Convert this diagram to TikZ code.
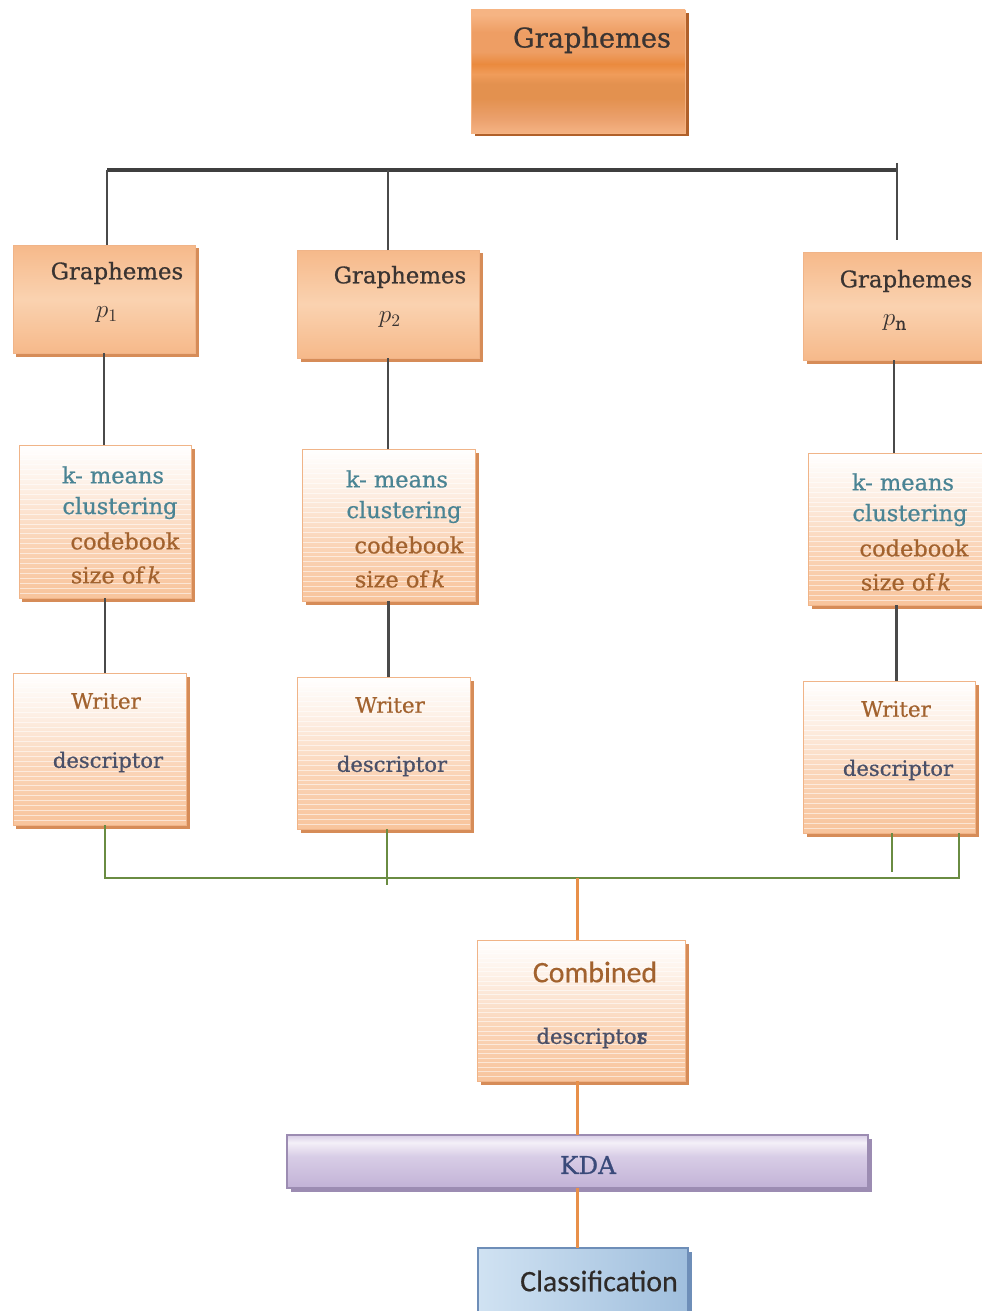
\documentclass[tikz,border=0pt]{standalone}
\usepackage{fontspec}
\setmainfont{DejaVu Serif}[FakeBold=0.7]
\newfontfamily\sansf{Carlito}[FakeBold=0.4]
\usetikzlibrary{calc,shadows}
\definecolor{gtext}{HTML}{3A3432}
\definecolor{teal}{HTML}{4A8494}
\definecolor{brownt}{HTML}{A2622E}
\definecolor{slate}{HTML}{4A5068}
\definecolor{kdatext}{HTML}{3A4A7A}
\definecolor{peach}{HTML}{F8C49C}
\definecolor{peachborder}{HTML}{F0B488}
\definecolor{shadoworange}{HTML}{D68C58}
\definecolor{darkorange}{HTML}{B0602A}
\definecolor{glight}{HTML}{FAD2B0}
\definecolor{gdark}{HTML}{F6B98A}
\definecolor{greenline}{HTML}{6A8C42}
\definecolor{orangeline}{HTML}{E8904A}
\definecolor{greyline}{HTML}{4A4A4A}
\definecolor{kdatop}{HTML}{F4F0F8}
\definecolor{kdamid}{HTML}{D8CDE6}
\definecolor{kdabot}{HTML}{C2B2D6}
\definecolor{kdaborder}{HTML}{9C8CB2}
\definecolor{clstop}{HTML}{D0E2F2}
\definecolor{clsbot}{HTML}{94B6D8}
\definecolor{clsborder}{HTML}{6E8EB8}
\definecolor{tA}{HTML}{F6B483}
\definecolor{tB}{HTML}{EE9E64}
\definecolor{tC}{HTML}{EA8A3E}
\definecolor{tD}{HTML}{F09C5A}
\definecolor{tE}{HTML}{E3914F}
\definecolor{tF}{HTML}{EBA06C}
\definecolor{tG}{HTML}{F3B080}
\pgfdeclareverticalshading{topshade}{100bp}{%
  color(0bp)=(tG); color(26bp)=(tG); color(31bp)=(tF);
  color(39bp)=(tE); color(45bp)=(tE); color(49bp)=(tD);
  color(53bp)=(tC); color(58bp)=(tB); color(66bp)=(tB);
  color(73bp)=(tA); color(100bp)=(tA)}
\pgfdeclareverticalshading{stripeshade}{100bp}{%
  color(0bp)=(peach); color(25bp)=(peach); color(45bp)=(peach!70!white);
  color(62bp)=(peach!25!white); color(75bp)=(white); color(100bp)=(white)}
\pgfdeclareverticalshading{gshade}{100bp}{%
  color(0bp)=(gdark); color(25bp)=(gdark); color(50bp)=(glight);
  color(75bp)=(gdark); color(100bp)=(gdark)}
\pgfdeclareverticalshading{kdashade}{100bp}{%
  color(0bp)=(kdabot); color(25bp)=(kdabot); color(55bp)=(kdamid);
  color(68bp)=(kdatop); color(75bp)=(kdamid); color(100bp)=(kdamid)}
\newcommand\drawbox[6]{\node[#6, anchor=north west, outer sep=0pt, inner sep=0pt,
  minimum width={(#4-#2)*0.02cm}, minimum height={(#5-#3)*0.02cm}] (#1) at (#2,#3) {};}
\begin{document}
\begin{tikzpicture}[x=0.02cm,y=-0.02cm,
  shadowed/.style={drop shadow={shadow xshift=0.07cm, shadow yshift=-0.07cm, fill=#1, opacity=1}},
  topbox/.style={shading=topshade, draw=tA, line width=0.5pt, shadowed=darkorange},
  gbox/.style={shading=gshade, draw=peachborder, line width=0.5pt, shadowed=shadoworange},
  sbox/.style={shading=stripeshade, draw=peachborder, line width=0.5pt, shadowed=shadoworange,
    path picture={\foreach \i in {1,...,30}{\draw[white, line width=0.5pt, opacity=0.55]
      ($(path picture bounding box.north west)!\i/31!(path picture bounding box.south west)$) --
      ($(path picture bounding box.north east)!\i/31!(path picture bounding box.south east)$);}}},
  kdabox/.style={shading=kdashade, draw=kdaborder, line width=0.6pt, shadowed=kdaborder},
  clsbox/.style={left color=clstop, right color=clsbot!80!clstop, draw=clsborder, line width=0.6pt, shadowed=clsborder},
  gtxt/.style={text=gtext, font=\fontsize{13}{15}\selectfont},
  toptxt/.style={text=gtext, font=\fontsize{15.5}{18}\selectfont},
  ptxt/.style={text=gtext, font=\fontsize{14}{16}\selectfont},
  tealtxt/.style={text=teal, font=\fontsize{12.8}{15}\selectfont},
  browntxt/.style={text=brownt, font=\fontsize{12.8}{15}\selectfont},
  writertxt/.style={text=brownt, font=\fontsize{12.2}{15}\selectfont},
  desctxt/.style={text=slate, font=\fontsize{12}{15}\selectfont},
  sanstxt/.style={font=\sansf\fontsize{17}{20}\selectfont},
  conn/.style={draw=greyline, line width=1.3pt},
  bus/.style={draw=greyline!85!black, line width=1.8pt},
  gl/.style={draw=greenline, line width=1.1pt},
  ol/.style={draw=orangeline, line width=1.2pt}]
\useasboundingbox (0,0) rectangle (981,1311);
% boxes
\drawbox{top}{471}{10}{685}{133}{topbox}
\drawbox{g1}{13}{245}{195}{353}{gbox}
\drawbox{g2}{297}{250}{479}{358}{gbox}
\drawbox{gn}{803}{252}{985}{360}{gbox}
\drawbox{k1}{19}{445}{191}{598}{sbox}
\drawbox{k2}{302}{449}{475}{601}{sbox}
\drawbox{kn}{808}{453}{985}{605}{sbox}
\drawbox{w1}{13}{673}{186}{825}{sbox}
\drawbox{w2}{297}{677}{470}{829}{sbox}
\drawbox{wn}{803}{681}{975}{833}{sbox}
\drawbox{comb}{477}{940}{685}{1081}{sbox}
\drawbox{kda}{287}{1135}{868}{1188}{kdabox}
\drawbox{cls}{478}{1248}{688}{1320}{clsbox}
% texts
\node[toptxt] (t0) at (592,40) {Graphemes};
\node[gtxt] (t1a) at (117,273) {Graphemes};
\node[ptxt] (t1b) at (107,315) {$p_1$};
\node[gtxt] (t2a) at (400,277) {Graphemes};
\node[ptxt] (t2b) at (390,320) {$p_2$};
\node[gtxt] (tna) at (906,281) {Graphemes};
\node[ptxt] (tnb) at (895,323) {$p_{\mathrm{n}}$};
\node[tealtxt] (k1a) at (113,475) {k- means};
\node[tealtxt] (k1b) at (120,508) {clustering};
\node[browntxt] (k1c) at (125,541) {codebook};
\node[browntxt] (k1d) at (116,575) {size of\,\textit{k}};
\node[tealtxt] (k2a) at (397,479) {k- means};
\node[tealtxt] (k2b) at (404,512) {clustering};
\node[browntxt] (k2c) at (409,545) {codebook};
\node[browntxt] (k2d) at (400,579) {size of\,\textit{k}};
\node[tealtxt] (kna) at (903,482) {k- means};
\node[tealtxt] (knb) at (910,515) {clustering};
\node[browntxt] (knc) at (914,548) {codebook};
\node[browntxt] (knd) at (906,582) {size of\,\textit{k}};
\node[writertxt] (w1a) at (106,701) {Writer};
\node[desctxt] (w1b) at (108,762) {descriptor};
\node[writertxt] (w2a) at (390,705) {Writer};
\node[desctxt] (w2b) at (392,766) {descriptor};
\node[writertxt] (wna) at (896,709) {Writer};
\node[desctxt] (wnb) at (898,770) {descriptor};
\node[sanstxt, text=brownt] (ca) at (595,972) {Combined};
\node[desctxt] (cb) at (592,1038) {descripto\makebox[0pt][l]{r}s};
\node[text=kdatext, font=\fontsize{14}{16}\selectfont] (kt) at (588,1165) {KDA};
\node[sanstxt, text=gtext!80!black] (ct) at (599,1281) {Classification};
% top bus
\coordinate (busL) at (107,170);
\coordinate (busR) at (897,170);
\coordinate (gnTop) at (897,163);
\coordinate (gnBot) at (897,240);
\draw[bus] (busL) -- (busR);
\draw[conn] (busL) -- (busL |- g1.north);
\draw[conn] (g2.north) -- (g2.north |- busL);
\draw[conn] (gnTop) -- (gnBot);
% columns
\draw[conn] (g1.south) -- (g1.south |- k1.north);
\draw[conn] (k1.south) -- (k1.south |- w1.north);
\draw[conn] (g2.south) -- (g2.south |- k2.north);
\draw[conn] (k2.south) -- (k2.south |- w2.north);
\draw[conn] (gn.south) -- (gn.south |- kn.north);
\draw[conn] (kn.south) -- (kn.south |- wn.north);
% green bus
\coordinate (gbus) at (0,878);
\coordinate (wnR) at (959,833);
\coordinate (w2end) at (387,885);
\coordinate (wnend) at (892,872);
\draw[gl] (w1.south -| k1.south) -- (k1.south |- gbus) -- (wnR |- gbus) -- (wnR);
\draw[gl] (w2.south -| w2end) -- (w2end);
\draw[gl] (wn.south -| wnend) -- (wnend);
% orange links
\draw[ol] (comb.north -| kda.north) -- (kda.north |- gbus);
\draw[ol] (comb.south -| kda.north) -- (kda.north);
\draw[ol] (kda.south) -- (kda.south |- cls.north);
\end{tikzpicture}
\end{document}
